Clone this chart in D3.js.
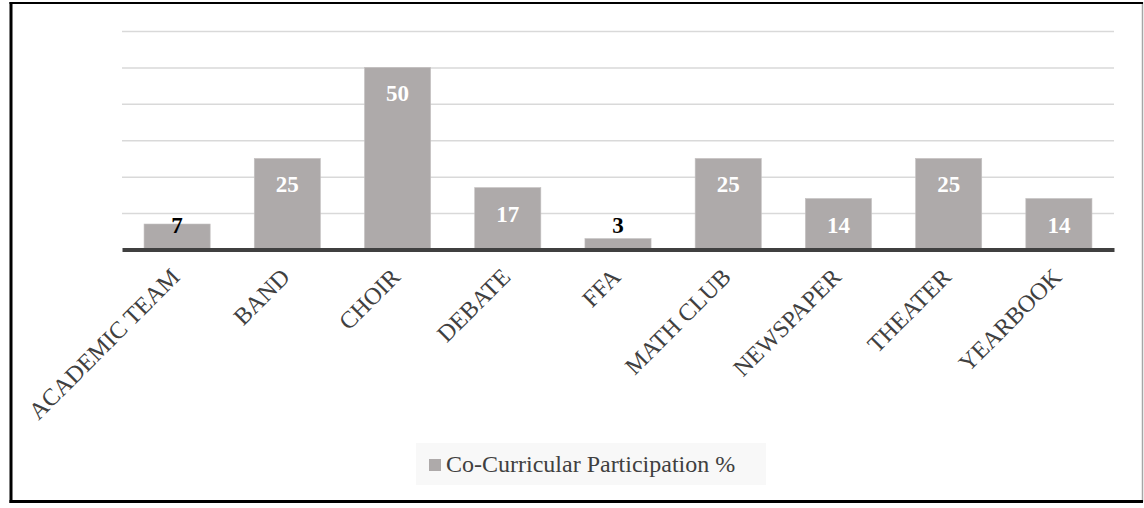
<!DOCTYPE html>
<html>
<head>
<meta charset="utf-8">
<script src="https://cdn.jsdelivr.net/npm/d3@7"></script>
<style>
  html, body { margin: 0; padding: 0; background: #fff; }
  svg { display: block; }
</style>
</head>
<body>
<svg id="chart" width="1144" height="508"></svg>
<script>
// Co-curricular participation by activity (%)
const categories = ["ACADEMIC TEAM", "BAND", "CHOIR", "DEBATE", "FFA", "MATH CLUB", "NEWSPAPER", "THEATER", "YEARBOOK"];
const participation = [7, 25, 50, 17, 3, 25, 14, 25, 14];
const gridTicks = [0, 10, 20, 30, 40, 50, 60];
const seriesName = "Co-Curricular Participation %";

const svg = d3.select("#chart");
const W = 1144, H = 508;
const plot = { left: 122, right: 1114, top: 31, bottom: 249.5 };
const serif = "'Liberation Serif', 'Times New Roman', serif";
const barColor = "#aeaaaa";
const textColor = "#404040";

const x = d3.scaleBand()
  .domain(categories)
  .range([plot.left, plot.right])
  .paddingInner(0.4)
  .paddingOuter(0.2);

const y = d3.scaleLinear()
  .domain([0, 60])
  .range([plot.bottom, plot.top]);

// Outer frame
svg.append("rect").attr("x", 0).attr("y", 0).attr("width", W).attr("height", H).attr("fill", "#fff");
const frame = svg.append("g");
frame.append("line").attr("x1", 1142.5).attr("x2", 1142.5).attr("y1", 2).attr("y2", 502)
  .attr("stroke", "#a6a6a6").attr("stroke-width", 1.5);
frame.append("line").attr("x1", 9.5).attr("x2", 1143).attr("y1", 3).attr("y2", 3)
  .attr("stroke", "#000").attr("stroke-width", 2);
frame.append("line").attr("x1", 9.5).attr("x2", 1143).attr("y1", 501.5).attr("y2", 501.5)
  .attr("stroke", "#000").attr("stroke-width", 3);
frame.append("line").attr("x1", 11).attr("x2", 11).attr("y1", 2).attr("y2", 503)
  .attr("stroke", "#000").attr("stroke-width", 3);

// Horizontal gridlines
const yAxis = d3.axisLeft(y).tickValues(gridTicks.filter(t => t > 0))
  .tickSize(-(plot.right - plot.left)).tickFormat("");
const gGrid = svg.append("g").attr("transform", `translate(${plot.left},0)`).call(yAxis);
gGrid.select(".domain").remove();
gGrid.selectAll(".tick line").attr("stroke", "#d9d9d9").attr("stroke-width", 1.5);

// Bars
svg.append("g").selectAll("rect")
  .data(participation)
  .join("rect")
  .attr("x", (d, i) => x(categories[i]))
  .attr("y", d => y(d))
  .attr("width", x.bandwidth())
  .attr("height", d => y(0) - y(d))
  .attr("fill", barColor)
  .attr("stroke", "#c4c1c1")
  .attr("stroke-width", 0.6);

// Category axis
const xAxis = d3.axisBottom(x).tickSize(0).tickPadding(0);
const gX = svg.append("g").attr("transform", `translate(0,${plot.bottom})`).call(xAxis);
gX.select(".domain").attr("stroke", "#404040").attr("stroke-width", 4);
gX.selectAll(".tick text")
  .attr("font-family", serif)
  .attr("font-size", 24)
  .attr("fill", textColor)
  .attr("text-anchor", "end")
  .attr("dy", 0)
  .attr("y", 0)
  .attr("transform", "translate(4,29) rotate(-45)");

// Value labels
const labelFloor = plot.bottom - 16.5;
svg.append("g").selectAll("text")
  .data(participation)
  .join("text")
  .attr("x", (d, i) => x(categories[i]) + x.bandwidth() / 2)
  .attr("y", d => Math.min(y(d) + 34, labelFloor))
  .attr("text-anchor", "middle")
  .attr("font-family", serif)
  .attr("font-weight", "bold")
  .attr("font-size", 23)
  .attr("fill", d => (y(0) - y(d)) < 30 ? "#000" : "#fff")
  .text(d => d);

// Legend
const legend = svg.append("g");
legend.append("rect").attr("x", 416).attr("y", 443).attr("width", 350).attr("height", 42)
  .attr("fill", "#f8f8f8");
legend.append("rect").attr("x", 429).attr("y", 459).attr("width", 12).attr("height", 12)
  .attr("fill", barColor);
legend.append("text").attr("x", 446).attr("y", 472)
  .attr("font-family", serif).attr("font-size", 24).attr("fill", textColor)
  .text(seriesName);
</script>
</body>
</html>
